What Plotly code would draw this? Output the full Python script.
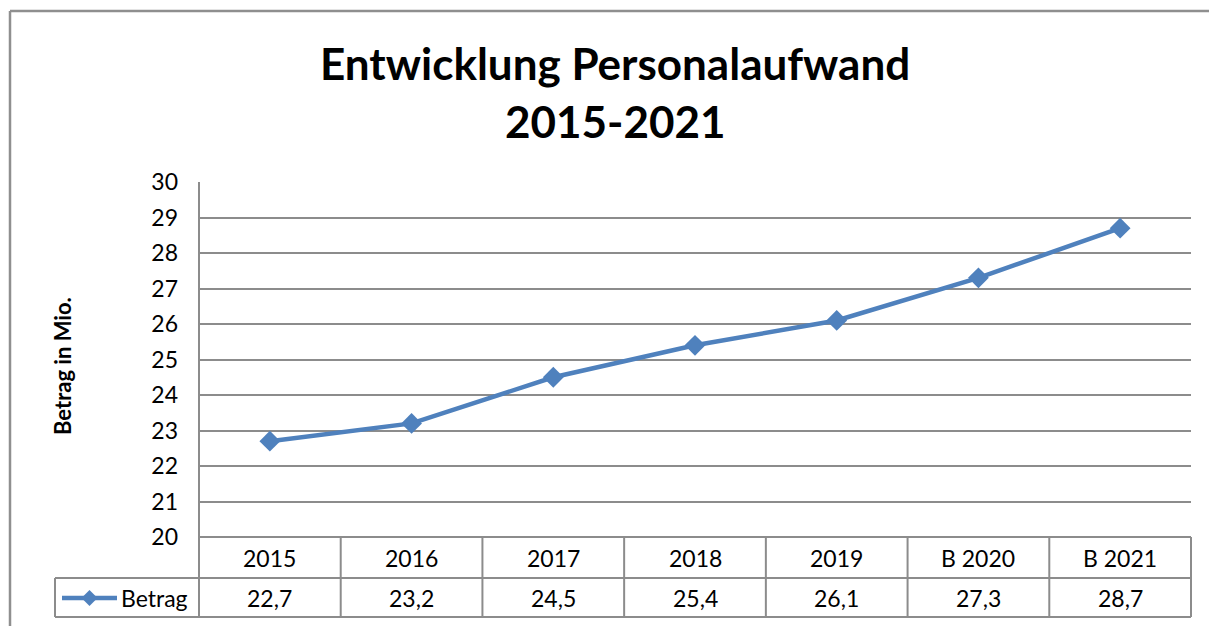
import plotly.graph_objects as go

categories = ["2015", "2016", "2017", "2018", "2019", "B 2020", "B 2021"]
values = [22.7, 23.2, 24.5, 25.4, 26.1, 27.3, 28.7]
value_labels = ["22,7", "23,2", "24,5", "25,4", "26,1", "27,3", "28,7"]
series_name = "Betrag"
y_ticks = list(range(20, 31))

W, H = 1209, 626
L, R, T, B = 199, 1191, 182, 537
FONT = "Lato"
LINE_COLOR = "#4F81BD"
BORDER = "#8C8C8C"

def py(ypix):
    return (B - ypix) / (B - T)

def px(xpix):
    return (xpix - L) / (R - L)

n = len(categories)
fig = go.Figure()
fig.add_trace(go.Scatter(
    x=list(range(n)), y=values, mode="lines+markers", name=series_name,
    line=dict(color=LINE_COLOR, width=4.5),
    marker=dict(symbol="diamond", size=16, color=LINE_COLOR),
    cliponaxis=False, showlegend=False,
))

shapes = []
def line(x0, y0, x1, y1, color=BORDER, w=2):
    shapes.append(dict(type="line", xref="paper", yref="paper",
                       x0=px(x0), y0=py(y0), x1=px(x1), y1=py(y1),
                       line=dict(color=color, width=w)))

# outer chart border
line(10, 11, 1215, 11, "#8F8F8F", 2.5)
line(10, 11, 10, 630, "#8F8F8F", 2.5)

# table
line(199, 182, 199, 617)
line(55, 578, 1191, 578)
line(55, 617, 1191, 617)
line(55, 578, 55, 617)
line(199, 537, 1191, 537)
for i in range(1, n + 1):
    xb = L + (R - L) * i / n
    line(xb, 537, xb, 617)

TF = dict(family=FONT, size=23, color="#000")
annotations = []
for i, (c, v) in enumerate(zip(categories, value_labels)):
    annotations.append(dict(x=i, y=py(558), xref="x", yref="paper", text=c,
                            xanchor="center", yanchor="middle",
                            showarrow=False, font=TF))
    annotations.append(dict(x=i, y=py(598), xref="x", yref="paper", text=v,
                            xanchor="center", yanchor="middle",
                            showarrow=False, font=TF))

# legend key in table
shapes.append(dict(type="line", xref="paper", yref="paper",
                   x0=px(62), y0=py(598), x1=px(117), y1=py(598),
                   line=dict(color=LINE_COLOR, width=4.5)))
cx, cy, d = 89.5, 598, 8
shapes.append(dict(type="path", xref="paper", yref="paper",
                   path=f"M {px(cx-d)},{py(cy)} L {px(cx)},{py(cy-d)} L {px(cx+d)},{py(cy)} L {px(cx)},{py(cy+d)} Z",
                   fillcolor=LINE_COLOR, line=dict(color=LINE_COLOR, width=0)))
annotations.append(dict(x=px(119), y=py(598), xref="paper", yref="paper", text=series_name,
                        xanchor="left", yanchor="middle", showarrow=False, font=TF))

# title
annotations.append(dict(x=px(615), y=py(63), xref="paper", yref="paper",
                        text="<b>Entwicklung Personalaufwand</b>", showarrow=False,
                        xanchor="center", yanchor="middle",
                        font=dict(family=FONT, size=44, color="#000")))
annotations.append(dict(x=px(615), y=py(121), xref="paper", yref="paper",
                        text="<b>2015-2021</b>", showarrow=False,
                        xanchor="center", yanchor="middle",
                        font=dict(family=FONT, size=44, color="#000")))
# y axis title
annotations.append(dict(x=px(62), y=py(366), xref="paper", yref="paper",
                        text="<b>Betrag in Mio.</b>", textangle=-90, showarrow=False,
                        xanchor="center", yanchor="middle",
                        font=dict(family=FONT, size=22, color="#000")))

fig.update_layout(
    width=W, height=H,
    margin=dict(l=L, r=W - R, t=T, b=H - B, pad=0),
    paper_bgcolor="white", plot_bgcolor="white",
    xaxis=dict(range=[-0.5, n - 0.5], showticklabels=False, showgrid=False,
               zeroline=False, showline=False, ticks=""),
    yaxis=dict(range=[20, 30], tickvals=y_ticks, showgrid=True, gridcolor="#8C8C8C",
               gridwidth=1.5, zeroline=False, showline=False, ticks="",
               ticklabelstandoff=20,
               tickfont=dict(family=FONT, size=23, color="#000")),
    shapes=shapes, annotations=annotations,
)
fig.write_html("out.html")
